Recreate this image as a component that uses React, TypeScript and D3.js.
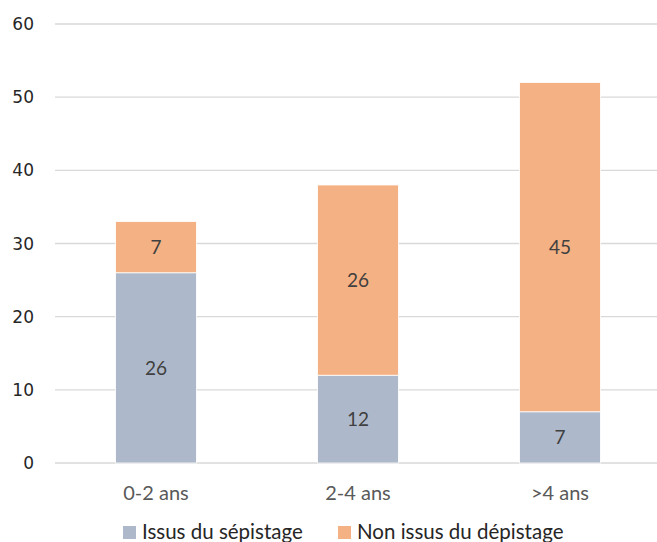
import { useEffect, useRef } from "react"
import * as d3 from "d3"

const categories = ["0-2 ans", "2-4 ans", ">4 ans"]
const issus = [26, 12, 7]
const nonIssus = [7, 26, 45]
const yTicks = [0, 10, 20, 30, 40, 50, 60]
const seriesNames = ["Issus du sépistage", "Non issus du dépistage"]
const colors = ["#adb9ca", "#f4b183"]

export default function App() {
  const svgRef = useRef<SVGSVGElement>(null)

  useEffect(() => {
    if (!svgRef.current) return
    const root = d3.select(svgRef.current)
    root.selectAll("*").remove()

    const left = 55
    const right = 657
    const top = 24
    const bottom = 463

    const x = d3.scaleBand().domain(categories).range([left, right + 4]).paddingInner(0.6).paddingOuter(0.3)
    const y = d3.scaleLinear().domain([0, 60]).range([bottom, top])

    // gridlines
    root
      .append("g")
      .selectAll("line")
      .data(yTicks)
      .enter()
      .append("line")
      .attr("x1", left)
      .attr("x2", right)
      .attr("y1", (d) => y(d))
      .attr("y2", (d) => y(d))
      .attr("stroke", "#d9d9d9")
      .attr("stroke-width", 1.3)

    // y tick labels
    root
      .append("g")
      .selectAll("text")
      .data(yTicks)
      .enter()
      .append("text")
      .attr("x", 34)
      .attr("y", (d) => y(d))
      .attr("dy", "0.36em")
      .attr("text-anchor", "end")
      .attr("font-family", "DejaVu Sans")
      .attr("font-size", 17)
      .attr("fill", "#262626")
      .text((d) => d)

    const stacked = categories.map((c, i) => ({ cat: c, a: issus[i], b: nonIssus[i] }))
    const series = d3.stack<{ cat: string; a: number; b: number }>().keys(["a", "b"])(stacked)

    series.forEach((s, si) => {
      const g = root.append("g")
      g.selectAll("rect")
        .data(s)
        .enter()
        .append("rect")
        .attr("x", (d) => x(d.data.cat) || 0)
        .attr("width", x.bandwidth())
        .attr("y", (d) => y(d[1]))
        .attr("height", (d) => y(d[0]) - y(d[1]))
        .attr("fill", colors[si])
        .attr("stroke", "#ffffff")
        .attr("stroke-width", 0.8)
      g.selectAll("text")
        .data(s)
        .enter()
        .append("text")
        .attr("x", (d) => (x(d.data.cat) || 0) + x.bandwidth() / 2)
        .attr("y", (d) => (y(d[0]) + y(d[1])) / 2)
        .attr("dy", "0.36em")
        .attr("text-anchor", "middle")
        .attr("font-family", "Lato, 'Open Sans', sans-serif")
        .attr("font-size", 19)
        .attr("fill", "#404040")
        .text((d) => d[1] - d[0])
    })

    // category labels
    root
      .append("g")
      .selectAll("text")
      .data(categories)
      .enter()
      .append("text")
      .attr("x", (d) => (x(d) || 0) + x.bandwidth() / 2)
      .attr("y", 493)
      .attr("dy", "0.36em")
      .attr("text-anchor", "middle")
      .attr("font-family", "Lato, 'Open Sans', sans-serif")
      .attr("font-size", 20)
      .attr("fill", "#595959")
      .text((d) => d)

    // legend
    const legendX = [123, 338]
    const legend = root.append("g")
    seriesNames.forEach((name, i) => {
      legend
        .append("rect")
        .attr("x", legendX[i])
        .attr("y", 526)
        .attr("width", 13)
        .attr("height", 13)
        .attr("fill", colors[i])
      legend
        .append("text")
        .attr("x", legendX[i] + 19)
        .attr("y", 532)
        .attr("dy", "0.36em")
        .attr("font-family", "Lato, 'Open Sans', sans-serif")
        .attr("font-size", 20.5)
        .attr("fill", "#262626")
        .text(name)
    })
  }, [])

  return (
    <div style={{ position: "absolute", left: 0, top: 0 }}>
      <svg ref={svgRef} width={657} height={542} style={{ display: "block", background: "#fff" }}></svg>
    </div>
  )
}
